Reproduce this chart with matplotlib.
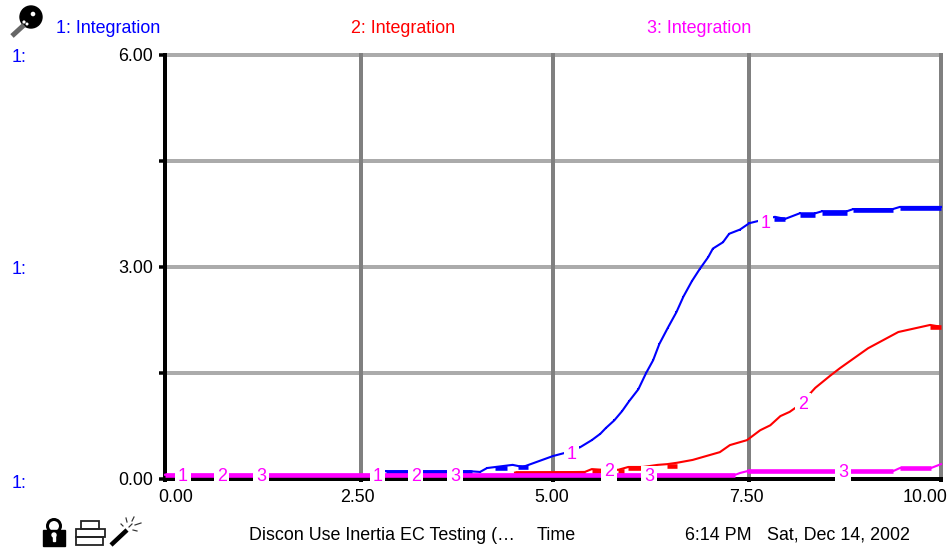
import matplotlib
matplotlib.use('Agg')
import matplotlib.pyplot as plt
from matplotlib.patches import Circle, Rectangle
from matplotlib.transforms import ScaledTranslation

plt.rcParams['font.family'] = ['Liberation Sans', 'DejaVu Sans']

# values
blue_t = [2.85, 3.93, 4.06, 4.15, 4.48, 4.61, 5.0, 5.19, 5.35, 5.50, 5.61, 5.68, 5.79, 5.89, 5.98,
          6.10, 6.20, 6.29, 6.37, 6.48, 6.59, 6.68, 6.79, 6.89, 7.0, 7.06, 7.19, 7.27, 7.41, 7.53,
          7.86, 7.99, 8.18, 8.38, 8.47, 8.79, 8.87, 9.38, 9.47, 10.0]
blue_v = [0.11, 0.11, 0.10, 0.155, 0.20, 0.17, 0.325, 0.38, 0.45, 0.55, 0.64, 0.72, 0.83, 0.96, 1.10,
          1.27, 1.50, 1.68, 1.91, 2.14, 2.36, 2.58, 2.80, 2.97, 3.14, 3.26, 3.35, 3.47, 3.53, 3.62,
          3.71, 3.68, 3.76, 3.76, 3.79, 3.79, 3.82, 3.82, 3.85, 3.85]
red_t = [4.51, 5.41, 5.50, 5.64, 5.84, 5.97, 6.16, 6.35, 6.47, 6.60, 6.80, 7.15, 7.28, 7.50, 7.67,
         7.80, 7.93, 8.05, 8.18, 8.38, 8.57, 8.70, 9.06, 9.45, 9.86, 9.97]
red_v = [0.09, 0.10, 0.14, 0.13, 0.13, 0.17, 0.17, 0.20, 0.21, 0.23, 0.27, 0.38, 0.48, 0.55, 0.69,
         0.76, 0.89, 0.95, 1.05, 1.29, 1.46, 1.57, 1.85, 2.08, 2.18, 2.16]
magenta_t = [0.0, 7.35, 7.41, 7.50, 9.38, 9.47, 9.87, 10.0]
magenta_v = [0.06, 0.06, 0.085, 0.11, 0.11, 0.155, 0.155, 0.21]

# flat stretches where the line is drawn heavy: start, end, value
blue_flat = [(2.85, 3.95, 0.105), (4.25, 4.41, 0.155), (4.55, 4.68, 0.165), (7.85, 7.99, 3.68),
             (8.18, 8.38, 3.74), (8.47, 8.79, 3.77), (8.87, 9.38, 3.80), (9.47, 10.0, 3.83)]
red_flat = [(4.51, 5.41, 0.09), (5.50, 5.64, 0.11), (5.84, 5.92, 0.11), (5.97, 6.16, 0.15),
            (6.47, 6.60, 0.19), (9.86, 10.0, 2.15)]
magenta_flat = [(0.0, 7.35, 0.06), (7.50, 9.38, 0.11), (9.47, 9.87, 0.15)]

# curve numbers
label_text = ['1', '2', '3', '1', '2', '3', '1', '2', '3', '1', '2', '3']
label_t = [0.23, 0.73, 1.24, 2.74, 3.23, 3.74, 5.24, 5.72, 6.24, 7.74, 8.22, 8.74]
label_v = [0.04, 0.04, 0.04, 0.04, 0.04, 0.04, 0.34, 0.10, 0.03, 3.62, 1.05, 0.085]

x_ticks = [0.0, 2.52, 5.0, 7.52, 10.0]
x_tick_labels = ['0.00', '2.50', '5.00', '7.50', '10.00']
x_label_shift = [11, -3, -1, -2, -16]
y_ticks = [0.0, 1.5, 3.0, 4.5, 6.0]
y_tick_labels = ['0.00', '', '3.00', '', '6.00']

W, H = 948, 548
BLUE, RED, MAGENTA = '#0000FF', '#FF0000', '#FF00FF'
FS = 12.9
px = 0.72  # one pixel in points at dpi 100

fig = plt.figure(figsize=(W / 100, H / 100), dpi=100)
ax = fig.add_axes([165 / W, 1 - 479 / H, 776 / W, 424 / H])
ax.set_xlim(0, 10)
ax.set_ylim(0, 6)

for s in ['top', 'right']:
    ax.spines[s].set_visible(False)
for s in ['left', 'bottom']:
    ax.spines[s].set_linewidth(4 * px)
    ax.spines[s].set_zorder(3)

ax.set_axisbelow(True)
ax.yaxis.set_zorder(0.4)
ax.set_xticks(x_ticks, x_tick_labels)
ax.set_yticks(y_ticks, y_tick_labels)
ax.tick_params(axis='x', length=3 * px, width=4 * px, pad=4.8, labelsize=FS, color='black')
ax.tick_params(axis='y', length=6 * px, width=3.5 * px, pad=4.5, labelsize=FS, color='black')
ax.grid(axis='x', color='#808080', linewidth=4 * px)
ax.grid(axis='y', color='#ABABAB', linewidth=4 * px)
for gl in ax.get_xgridlines() + ax.get_ygridlines():
    gl.set_clip_on(False)

for lab, shift in zip(ax.get_xticklabels(), x_label_shift):
    lab.set_transform(lab.get_transform() + ScaledTranslation(shift / 100, 0, fig.dpi_scale_trans))
for lab in ax.get_yticklabels():
    lab.set_transform(lab.get_transform() + ScaledTranslation(0, 0.5 / 100, fig.dpi_scale_trans))

series = [(blue_t, blue_v, blue_flat, BLUE, 2.8), (red_t, red_v, red_flat, RED, 0), (magenta_t, magenta_v, magenta_flat, MAGENTA, 0)]
for z, (t, v, flat, col, ms) in enumerate(series):
    ax.plot(t, v, color=col, lw=2.1 * px, marker='s', ms=ms * px, mew=0, clip_on=False, zorder=4 + z * 0.1)
    for t0, t1, val in flat:
        ax.plot([t0, t1], [val, val], color=col, lw=4.6 * px, solid_capstyle='butt', clip_on=False, zorder=4 + z * 0.1)

for s, t, v in zip(label_text, label_t, label_v):
    ax.text(t, v, s, color=MAGENTA, fontsize=FS, ha='center', va='center', zorder=6, clip_on=False,
            bbox=dict(facecolor='white', edgecolor='none', pad=2))

# header and footer text, in pixel positions
def put(x, y, s, color='black', ha='left'):
    fig.text(x / W, 1 - y / H, s, color=color, fontsize=FS, ha=ha, va='center')

put(56, 28.5, '1: Integration', BLUE)
put(351, 28.5, '2: Integration', RED)
put(647, 28.5, '3: Integration', MAGENTA)
for y in [57, 269, 483]:
    put(12, y, '1:', BLUE)
put(249, 535, 'Discon Use Inertia EC Testing (…')
put(537, 535, 'Time')
put(685, 535, '6:14 PM')
put(767, 535, 'Sat, Dec 14, 2002')

# little toolbar icons
ic = fig.add_axes([0, 0, 1, 1], zorder=10)
ic.set_xlim(0, W)
ic.set_ylim(H, 0)
ic.axis('off')
ic.patch.set_alpha(0)

# magnifier
ic.plot([12, 24], [36, 25], color='#666666', lw=5 * px, solid_capstyle='butt')
ic.add_patch(Circle((31, 17), 11, color='black'))
ic.add_patch(Circle((33, 14), 1.6, color='white'))
ic.add_patch(Circle((24, 22), 0.9, color='white'))
ic.add_patch(Circle((27, 24), 0.8, color='white'))

# lock
ic.add_patch(Circle((54, 526), 6.5, fill=False, edgecolor='black', lw=3 * px))
ic.add_patch(Rectangle((43, 530), 22, 16, color='black'))
ic.add_patch(Circle((54, 535), 2, color='white'))
ic.add_patch(Rectangle((53.2, 535), 1.6, 6, color='white'))

# printer
ic.add_patch(Rectangle((76, 529), 29, 8, fill=False, edgecolor='#222222', lw=1.8 * px))
ic.add_patch(Rectangle((76, 537), 27, 8, fill=False, edgecolor='#222222', lw=1.8 * px))
ic.add_patch(Rectangle((81, 521), 18, 8, fill=False, edgecolor='#222222', lw=1.8 * px))

# wand
ic.plot([111, 127], [545, 530], color='black', lw=4.5 * px, solid_capstyle='butt')
for x0, y0, x1, y1 in [(129, 527, 132, 524), (133, 530, 137, 531), (127, 522, 126, 518),
                       (132, 521, 134, 517), (135, 525, 141, 523), (121, 524, 123, 526)]:
    ic.plot([x0, x1], [y0, y1], color='#333333', lw=1.2 * px)

fig.savefig('out.png', dpi=100)
